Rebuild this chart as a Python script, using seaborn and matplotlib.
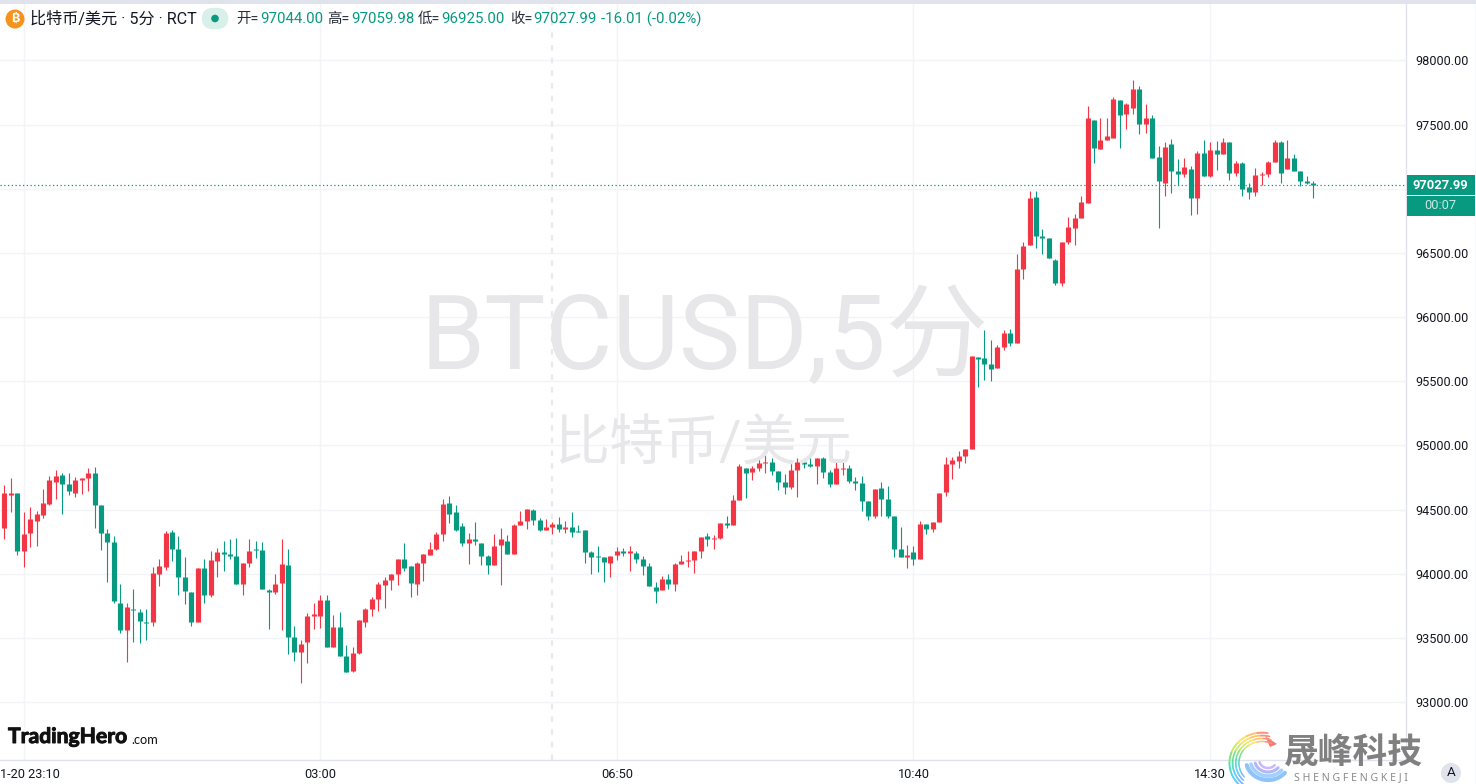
import numpy as np
import pandas as pd
import seaborn as sns
import matplotlib.pyplot as plt
import matplotlib.patheffects as pe
from matplotlib.patches import Circle, FancyBboxPatch, Rectangle
from matplotlib.transforms import ScaledTranslation

# candle values, 5 minute bars
open_px = [94355,94612,94628,94175,94316,94409,94456,94542,94714,94768,
94698,94628,94729,94745,94784,94534,94316,94246,93770,93559,
93723,93700,93622,93622,93996,94051,94324,94191,93973,93856,
93622,94043,93832,94097,94168,94152,94136,93918,94082,94191,
94183,93871,93856,93926,94066,93505,93388,93473,93668,93668,
93793,93434,93583,93364,93247,93380,93622,93723,93801,93910,
93949,93996,94113,94058,93918,94082,94144,94191,94308,94550,
94480,94370,94238,94269,94238,94136,94066,94222,94253,94152,
94378,94409,94495,94417,94339,94363,94386,94347,94363,94331,
94339,94168,94136,94129,94082,94144,94175,94160,94160,94113,
94058,93895,93871,93957,93918,94074,94097,94105,94175,94292,
94269,94277,94394,94378,94573,94823,94792,94823,94862,94870,
94799,94714,94675,94807,94870,94854,94838,94901,94792,94698,
94815,94823,94721,94706,94565,94448,94667,94581,94448,94191,
94129,94168,94113,94386,94347,94402,94636,94854,94877,94916,
94971,95689,95681,95634,95603,95767,95876,95798,96375,96562,
96937,96632,96617,96445,96266,96586,96695,96773,96891,97538,
97312,97382,97398,97694,97585,97632,97780,97507,97554,97249,
97047,97351,97140,97117,97156,96930,97281,97101,97304,97273,
97366,97125,97203,97015,96976,97109,97117,97210,97366,97156,
97242,97140,97062,97044]

close_px = [94628,94628,94175,94308,94425,94464,94550,94729,94760,94698,
94643,94729,94745,94784,94534,94316,94246,93785,93559,93739,
93715,93629,93614,94004,94058,94316,94191,93973,93863,93622,
94043,93832,94105,94168,94152,94136,93918,94082,94175,94183,
93879,93856,93918,94074,93505,93388,93450,93668,93684,93793,
93434,93583,93364,93239,93380,93637,93723,93801,93918,93949,
93996,94113,94043,93926,94082,94152,94191,94308,94542,94464,
94339,94238,94269,94253,94136,94066,94214,94269,94152,94378,
94409,94503,94417,94339,94363,94386,94347,94363,94324,94324,
94168,94129,94129,94090,94136,94175,94160,94175,94113,94058,
93902,93863,93957,93918,94074,94097,94105,94175,94285,94269,
94277,94394,94378,94573,94838,94784,94823,94862,94870,94799,
94714,94675,94807,94870,94854,94838,94901,94792,94698,94823,
94823,94721,94706,94565,94448,94659,94581,94448,94191,94129,
94144,94113,94386,94347,94402,94628,94854,94885,94916,94971,
95696,95673,95634,95595,95767,95876,95798,96375,96554,96929,
96632,96617,96461,96266,96586,96703,96773,96898,97554,97320,
97382,97413,97702,97577,97663,97780,97507,97554,97242,97062,
97327,97140,97117,97171,96930,97281,97101,97304,97273,97366,
97125,97203,97000,96976,97109,97117,97210,97366,97125,97242,
97140,97062,97047,97028]

high_px = [94690,94745,94628,94480,94519,94487,94659,94760,94807,94784,
94784,94753,94745,94823,94831,94534,94347,94292,93918,93770,
93879,93723,93723,94051,94113,94331,94339,94292,94129,93856,
94043,94113,94175,94199,94253,94269,94277,94082,94269,94253,
94246,93879,93996,94269,94191,93590,93481,93692,93770,93832,
93832,93676,93700,93442,93434,93637,93731,93817,93934,93973,
93996,94113,94238,94058,94090,94152,94246,94324,94581,94604,
94534,94394,94316,94402,94238,94144,94308,94355,94300,94386,
94487,94503,94503,94433,94425,94402,94441,94409,94480,94378,
94339,94175,94214,94129,94136,94207,94199,94214,94175,94136,
94082,93934,93980,93996,94082,94144,94175,94175,94285,94316,
94300,94394,94448,94612,94854,94823,94838,94901,94924,94901,
94799,94776,94885,94901,94901,94932,94901,94909,94807,94877,
94885,94846,94753,94760,94565,94659,94714,94682,94448,94363,
94222,94214,94409,94386,94402,94628,94909,94909,94955,94971,
95696,95689,95899,95821,95782,95899,95907,96492,96586,96983,
96983,96687,96617,96453,96586,96781,96804,96944,97647,97538,
97554,97554,97717,97694,97671,97850,97803,97663,97577,97335,
97366,97390,97234,97242,97179,97296,97382,97366,97374,97398,
97366,97218,97210,97047,97164,97132,97218,97382,97374,97382,
97273,97140,97101,97060]

low_px = [94269,94480,94144,94051,94207,94214,94433,94534,94581,94464,
94612,94597,94620,94643,94355,94183,93934,93770,93536,93317,
93466,93458,93481,93590,93902,94027,94097,93832,93762,93590,
93622,93770,93817,93973,94019,94113,93918,93832,94051,94121,
93879,93567,93840,93559,93372,93325,93146,93302,93567,93575,
93427,93434,93364,93239,93239,93372,93583,93668,93707,93731,
93871,93910,94019,93817,93832,93941,94144,94183,94253,94394,
94331,94214,94074,94222,94066,93996,94066,93910,94152,94152,
94378,94347,94378,94331,94339,94308,94324,94316,94285,94324,
94082,93996,94012,93934,93973,94105,94136,94019,94082,93988,
93902,93770,93871,93879,93863,94074,94051,94004,94121,94214,
94191,94269,94355,94378,94573,94589,94729,94799,94784,94768,
94651,94620,94659,94597,94823,94831,94698,94745,94675,94698,
94768,94706,94651,94487,94417,94433,94448,94433,94129,94129,
94043,94066,94113,94308,94324,94402,94604,94737,94823,94862,
94971,95455,95509,95501,95603,95743,95774,95798,96297,96562,
96539,96492,96461,96250,96242,96570,96562,96773,96891,97203,
97312,97382,97398,97320,97468,97585,97429,97437,97242,96696,
96945,96969,97031,97093,96797,96805,97101,97093,97148,97273,
97070,97101,96945,96922,96945,97031,97093,97210,97047,97156,
97140,97023,97039,96925]

price_ticks = [93000,93500,94000,94500,95000,95500,96000,96500,97000,97500,98000]
# the 97000 label is hidden behind the price tag in the reference
price_labels = ["93000.00","93500.00","94000.00","94500.00","95000.00","95500.00",
                "96000.00","96500.00","","97500.00","98000.00"]
time_ticks = [3, 49, 95, 141, 187]
time_labels = ["1-20 23:10", "03:00", "06:50", "10:40", "14:30"]
last_price = 97027.99
crosshair_bar = 85

GREEN = "#089981"
RED = "#f23645"
INK = "#131722"
GRID = "#f3f4f7"
EDGE = "#e0e3eb"

n = len(open_px)
bars = pd.DataFrame({"bar": range(n), "o": open_px, "h": high_px, "l": low_px, "c": close_px})
bars["side"] = np.where(bars["c"] >= bars["o"], "up", "down")

# two rows per candle, one line for the wick and one for the body
wicks = bars.melt(id_vars=["bar", "side"], value_vars=["l", "h"], value_name="price")
bodies = bars.melt(id_vars=["bar", "side"], value_vars=["o", "c"], value_name="price")

sns.set_theme(style="white")
plt.rcParams["font.family"] = ["Roboto", "Noto Sans CJK SC", "DejaVu Sans"]

fig = plt.figure(figsize=(14.76, 7.84), dpi=100)
ax = fig.add_axes([0, 24 / 784, 1406 / 1476, 756 / 784])

palette = {"up": RED, "down": GREEN}
sns.lineplot(data=wicks, x="bar", y="price", hue="side", units="bar", estimator=None, sort=False,
             palette=palette, lw=0.8, legend=False, ax=ax, zorder=3, solid_capstyle="butt")
sns.lineplot(data=bodies, x="bar", y="price", hue="side", units="bar", estimator=None, sort=False,
             palette=palette, lw=3.7, legend=False, ax=ax, zorder=4, solid_capstyle="butt")

ax.set_xlim(-0.67, 217.38)
ax.set_ylim(92550, 98439)
ax.set_xlabel("")
ax.set_ylabel("")
ax.set_yticks(price_ticks)
ax.set_yticklabels(price_labels, fontsize=9.1, color=INK)
ax.yaxis.tick_right()
ax.set_xticks(time_ticks)
ax.set_xticklabels(time_labels, fontsize=9.2, color=INK)
ax.tick_params(axis="y", length=0, pad=6.5)
ax.tick_params(axis="x", length=0, pad=6)
ax.grid(True, color=GRID, lw=1)
ax.set_axisbelow(True)
for s in ["top", "left"]:
    ax.spines[s].set_visible(False)
for s in ["right", "bottom"]:
    ax.spines[s].set_color(EDGE)
    ax.spines[s].set_linewidth(1)

# first time label is cut by the left edge
first = ax.get_xticklabels()[0]
first.set_ha("left")
first.set_transform(first.get_transform() + ScaledTranslation(-24 / 100, 0, fig.dpi_scale_trans))

ax.axvline(crosshair_bar, color="#e9eaed", lw=1.6, ls=(0, (2.5, 3.2)), zorder=1)
ax.axhline(last_price, color=GREEN, lw=0.9, ls=(0, (1, 2)), zorder=5)

# everything else sits on an overlay measured in screen pixels
ov = fig.add_axes([0, 0, 1, 1], facecolor="none")
ov.set_xlim(0, 1476)
ov.set_ylim(784, 0)
ov.axis("off")


def label(x, y, s, size=9.4, color=INK, ha="left", **kw):
    return ov.text(x, y, s, fontsize=size, color=color, ha=ha, va="center", **kw)


# watermark
label(705, 340, "BTCUSD,5分", size=74, color="#e7e7e9", ha="center", zorder=0)
label(703, 445, "比特币/美元", size=39.6, color="#e7e7e9", ha="center", zorder=0)

# top strip and header
ov.add_patch(Rectangle((0, 0), 1476, 4, color=EDGE, lw=0))
ov.add_patch(Circle((15, 19), 9.5, color="#f7931a", lw=0))
label(15, 19, "₿", size=9, color="white", ha="center", weight="bold",
      family=["Inter", "Noto Sans", "Open Sans", "Lato", "Roboto", "Liberation Sans"])
label(30, 19, "比特币/美元 · 5分 · RCT", size=11.6)
ov.add_patch(FancyBboxPatch((206, 12), 18, 13, boxstyle="round,pad=0,rounding_size=6.5",
                            mutation_aspect=1, color="#d9efea", lw=6))
ov.add_patch(Circle((215, 18.5), 3.8, color=GREEN, lw=0))
for x, s in [(236, "开="), (327, "高="), (418, "低="), (510, "收=")]:
    label(x, 19, s, size=10.4, color="#2a2e39")
for x, s in [(260, "97044.00"), (351, "97059.98"), (441, "96925.00"), (533, "97027.99"),
             (601, "-16.01 (-0.02%)")]:
    label(x, 19, s, size=10.8, color=GREEN)

# price tag on the axis
ov.add_patch(Rectangle((1407, 175), 68, 20, color=GREEN, lw=0))
ov.add_patch(Rectangle((1407, 195.5), 68, 20, color=GREEN, lw=0))
label(1440, 185, "97027.99", size=9.4, color="white", ha="center", weight="bold")
label(1440, 205, "00:07", size=9.2, color="#c9e8e1", ha="center")
ov.plot([1475.5, 1475.5], [4, 784], color=EDGE, lw=1)

# bottom right button
ov.add_patch(Circle((1451, 773), 10, color=EDGE, lw=0))
label(1451, 773, "A", size=9.6, ha="center")

# TradingHero logo
label(8, 737, "TradingHero", size=15.2, color="#111111", weight="bold", family="Lato",
      path_effects=[pe.withStroke(linewidth=0.7, foreground="#111111")])
label(131, 739.5, ".com", size=9.2, color="#111111", family="Lato")

# shengfeng logo
swirl = ["#ff8f7a", "#ffc36b", "#fde36a", "#c9ec6a", "#83e28a", "#58dcc0", "#5fd0f2", "#7db8fb"]
for k, r in enumerate([31, 28, 25, 22]):
    t = np.linspace(80, 235, 40)
    for j in range(len(t) - 1):
        c = swirl[min(int(j / 39 * len(swirl)), len(swirl) - 1)]
        a = np.radians(t[j:j + 2] - 5 * k)
        ov.plot(1262 + r * np.cos(a) * 1.05, 763 - r * np.sin(a) * 0.98, color=c, lw=1.3 - 0.1 * k,
                solid_capstyle="round")
for k, col in enumerate(["#8fc4fb", "#a3cffc", "#b4b6fb", "#c9b8fb"]):
    a = np.radians(np.linspace(195, 320, 30))
    ov.plot(1268 + (20 - 4 * k) * np.cos(a) * 1.1, 760 - (20 - 4 * k) * np.sin(a),
            color=col, lw=3 - 0.4 * k, solid_capstyle="round")
ov.fill([1265, 1277, 1270], [736, 744, 747], color="#f57a72", lw=0)
label(1353, 753, "晟峰科技", size=25, color="#808080", ha="center", weight="bold", family="Noto Sans CJK SC")
label(1351, 778, "S H E N G F E N G K E J I", size=7.6, color="#8a8a8a", ha="center", family="Noto Sans")

fig.savefig("out.png", dpi=100)
